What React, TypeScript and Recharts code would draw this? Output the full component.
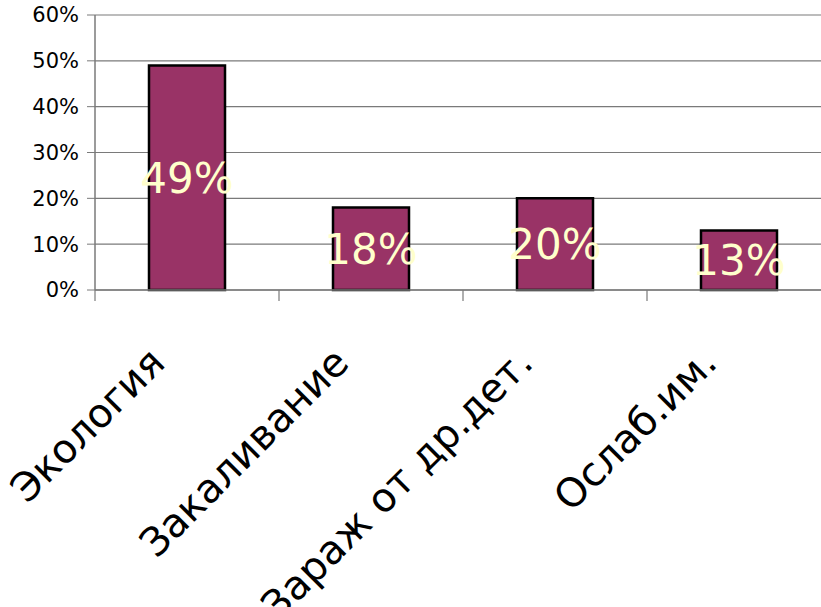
import React from 'react';
import { BarChart, Bar, XAxis, YAxis, CartesianGrid, LabelList } from 'recharts';

const categories = ['Экология', 'Закаливание', 'Зараж от др.дет.', 'Ослаб.им.'];
const shares = [49, 18, 20, 13];
const yTicks = [0, 10, 20, 30, 40, 50, 60];

const data = categories.map((name, i) => ({ name, value: shares[i] }));

const GRID = '#7a7a7a';

// подпись категории под углом 45° + риска на границе категории
const CategoryTick = (props: any) => {
  const { x, y, payload } = props;
  const half = payload && typeof payload.offset === 'number' && payload.offset > 0 ? payload.offset : 92;
  const tx = x - 20;
  const ty = y + 75;
  return (
    <g>
      <line x1={x - half} y1={y} x2={x - half} y2={y + 11} stroke={GRID} strokeWidth={1.2} />
      <text
        x={tx}
        y={ty}
        textAnchor="end"
        fontSize={40}
        fill="#000"
        transform={`rotate(-45, ${tx}, ${ty})`}
      >
        {payload.value}
      </text>
    </g>
  );
};

export default function App() {
  return (
    <div
      style={{
        position: 'absolute',
        left: 0,
        top: 0,
        width: 821,
        height: 607,
        overflow: 'hidden',
        background: '#fff',
        fontFamily: '"DejaVu Sans", sans-serif',
      }}
    >
      <BarChart
        width={831}
        height={607}
        data={data}
        margin={{ top: 15, right: 0, bottom: 0, left: 0 }}
        barCategoryGap={54}
      >
        <CartesianGrid vertical={false} stroke={GRID} strokeWidth={1.2} />
        <XAxis
          dataKey="name"
          height={317}
          interval={0}
          tickLine={false}
          tickSize={0}
          tickMargin={0}
          axisLine={{ stroke: GRID, strokeWidth: 1.5 }}
          tick={<CategoryTick />}
        />
        <YAxis
          width={95}
          domain={[0, 60]}
          ticks={yTicks}
          interval={0}
          tickFormatter={(v: number) => `${v}%`}
          tick={{ fontSize: 21, fill: '#000' }}
          tickSize={8}
          tickMargin={8}
          tickLine={{ stroke: GRID }}
          axisLine={{ stroke: GRID, strokeWidth: 1.5 }}
        />
        <Bar dataKey="value" fill="#993366" stroke="#000" strokeWidth={2.5} isAnimationActive={false}>
          <LabelList
            dataKey="value"
            position="center"
            formatter={(v: any) => `${v}%`}
            fill="#ffffcc"
            fontSize={42}
          />
        </Bar>
      </BarChart>
    </div>
  );
}
